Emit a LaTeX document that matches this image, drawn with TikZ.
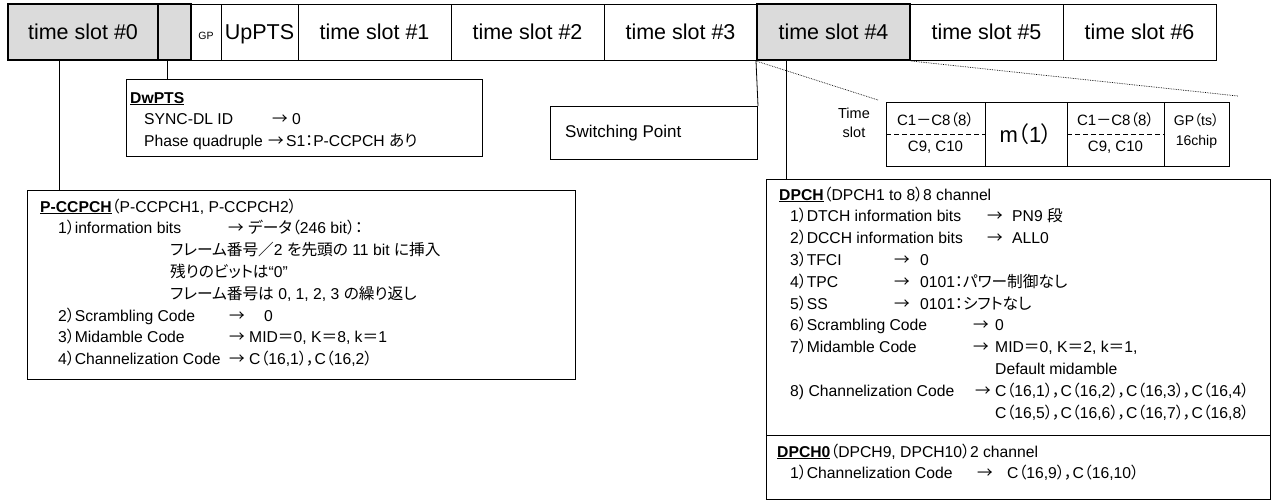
\documentclass[tikz,border=0pt]{standalone}
\usepackage{fontspec}
\setmainfont{Liberation Sans}
\newfontfamily\jpfont[CharacterWidth=AlternateProportional]{Noto Sans CJK JP}
\newcommand\jp[1]{{\jpfont#1}}
% place a piece of a text line at a fixed offset from the line start
\newcommand\seg[2]{\rlap{\hspace*{#1pt}#2}}
\newcommand\hd[1]{\textbf{\underline{#1}}}
\usetikzlibrary{calc}

\begin{document}
\begin{tikzpicture}[x=1pt,y=-1pt,
  slot/.style={draw, line width=0.8pt, minimum height=56pt, inner sep=0pt,
    text height=14pt, text depth=0pt, font=\fontsize{21.5}{24}\selectfont},
  hot/.style={fill=black!14, line width=2pt},
  box/.style={draw, line width=1pt, inner sep=0pt, anchor=north west},
  body/.style={inner sep=0pt, anchor=base west, font=\fontsize{15.7}{21.8}\selectfont},
  cell/.style={draw, line width=0.8pt, inner sep=0pt, anchor=north west, minimum height=64pt},
  celltxt/.style={inner sep=0pt, anchor=base, font=\fontsize{15}{18}\selectfont},
  split/.style={line width=0.8pt, dash pattern=on 5pt off 3pt},
  link/.style={line width=0.8pt},
  zoomline/.style={line width=0.7pt, densely dotted}
]
\useasboundingbox (0,0) rectangle (1278,501);

% ---- frame of time slots ----
\node[slot, minimum width=30pt] (gp) at (206,32) {\fontsize{10.5}{12}\selectfont GP};
\node[slot, minimum width=77pt] (up) at (259.5,32) {UpPTS};
\node[slot, minimum width=153pt] (ts1) at (374.5,32) {time slot \#1};
\node[slot, minimum width=153pt] (ts2) at (527.5,32) {time slot \#2};
\node[slot, minimum width=153pt] (ts3) at (680.5,32) {time slot \#3};
\node[slot, minimum width=153pt] (ts5) at (986.5,32) {time slot \#5};
\node[slot, minimum width=153pt] (ts6) at (1139.5,32) {time slot \#6};
\node[slot, hot, minimum width=150pt] (ts0) at (83,32) {time slot \#0};
\node[slot, hot, minimum width=33pt] (sm) at (174.5,32) {};
\node[slot, hot, minimum width=153pt] (ts4) at (833.5,32) {time slot \#4};

% ---- description boxes ----
\node[box, minimum width=356pt, minimum height=77pt] (dw) at (126,79) {};
\node[box, minimum width=548pt, minimum height=189pt] (pcc) at (27,190) {};
\node[box, minimum width=207pt, minimum height=53pt] (sp) at (550,106) {};
\node[box, minimum width=504pt, minimum height=256pt] (dpch) at (766,179) {};
\node[box, minimum width=504pt, minimum height=64pt] (dpch0) at (766,435) {};

% ---- connectors ----
\draw[link] (ts0.south west) ++(52pt,0) coordinate (k0) -- (k0 |- pcc.north);
\draw[link] (sm.south west) ++(10pt,0) coordinate (k1) -- (k1 |- dw.north);
\draw[link] (ts4.south west) -- (sp.north east);
\draw[link] (ts4.south west) ++(30pt,0) coordinate (k4) -- (k4 |- dpch.north);

% ---- structure of one time slot ----
\node[cell, minimum width=99pt] (c1) at (886,102) {};
\node[cell, minimum width=82pt] (c2) at (985,102) {};
\node[cell, minimum width=97pt] (c3) at (1067,102) {};
\node[cell, minimum width=65pt] (c4) at (1164,102) {};
\draw[split] (c1.west) -- (c1.east);
\draw[split] (c3.west) -- (c3.east);
\draw[zoomline] (ts4.south west) -- ([shift={(-8pt,2pt)}]c1.north west);
\draw[zoomline] (ts4.south east) -- ([shift={(8pt,6pt)}]c4.north east);

\node[inner sep=0pt, anchor=base, font=\fontsize{14.5}{19}\selectfont] (tsl) at (854,118)
  {\parbox[t]{40pt}{\centering Time\\slot}};
\node[celltxt] (c1a) at (935.5,125) {C1\jp{－}C8\jp{（}8\jp{）}};
\node[celltxt] (c1b) at (935.5,151) {C9, C10};
\node[celltxt, anchor=center, font=\fontsize{22}{24}\selectfont] (c2a) at (1026,134) {m\jp{（}1\jp{）}};
\node[celltxt] (c3a) at (1115.5,125) {C1\jp{－}C8\jp{（}8\jp{）}};
\node[celltxt] (c3b) at (1115.5,151) {C9, C10};
\node[celltxt, font=\fontsize{14}{16}\selectfont] (c4a) at (1196.5,125) {GP\jp{（}ts\jp{）}};
\node[celltxt, font=\fontsize{14}{16}\selectfont] (c4b) at (1196.5,145) {16chip};

% ---- texts ----
\node[anchor=west, inner sep=0pt, font=\fontsize{17}{20}\selectfont] (spTxt) at (565,133) {Switching Point};

\node[body] (dwTxt) at (130,103) {\parbox[t]{340pt}{%
\hd{DwPTS}\\
\seg{14}{SYNC-DL ID}\seg{142}{\jp{→}}\seg{162}{0}\\
\seg{14}{Phase quadruple}\seg{138}{\jp{→}}\seg{156}{S1\jp{：}P-CCPCH \jp{あり}}}};

\node[body] (pccTxt) at (40,212) {\parbox[t]{520pt}{%
\hd{P-CCPCH}\jp{（}P-CCPCH1, P-CCPCH2\jp{）}\\
\seg{18}{1\jp{）}information bits}\seg{188}{\jp{→}}\seg{208}{\jp{データ（}246 bit\jp{）：}}\\
\seg{130}{\jp{フレーム番号／}2 \jp{を先頭の} 11 bit \jp{に挿入}}\\
\seg{130}{\jp{残りのビットは}“0”}\\
\seg{130}{\jp{フレーム番号は} 0, 1, 2, 3 \jp{の繰り返し}}\\
\seg{18}{2\jp{）}Scrambling Code}\seg{189}{\jp{→}}\seg{224}{0}\\
\seg{18}{3\jp{）}Midamble Code}\seg{189}{\jp{→}}\seg{209}{MID\jp{＝}0, K\jp{＝}8, k\jp{＝}1}\\
\seg{18}{4\jp{）}Channelization Code}\seg{189}{\jp{→}}\seg{209}{C\jp{（}16,1\jp{），}C\jp{（}16,2\jp{）}}}};

\node[body] (dpchTxt) at (779,200) {\parbox[t]{480pt}{%
\hd{DPCH}\jp{（}DPCH1 to 8\jp{）}8 channel\\
\seg{11}{1\jp{）}DTCH information bits}\seg{208}{\jp{→}}\seg{233}{PN9 \jp{段}}\\
\seg{11}{2\jp{）}DCCH information bits}\seg{208}{\jp{→}}\seg{233}{ALL0}\\
\seg{11}{3\jp{）}TFCI}\seg{115}{\jp{→}}\seg{141}{0}\\
\seg{11}{4\jp{）}TPC}\seg{115}{\jp{→}}\seg{141}{0101\jp{：パワー制御なし}}\\
\seg{11}{5\jp{）}SS}\seg{115}{\jp{→}}\seg{141}{0101\jp{：シフトなし}}\\
\seg{11}{6\jp{）}Scrambling Code}\seg{194}{\jp{→}}\seg{216}{0}\\
\seg{11}{7\jp{）}Midamble Code}\seg{194}{\jp{→}}\seg{216}{MID\jp{＝}0, K\jp{＝}2, k\jp{＝}1,}\\
\seg{216}{Default midamble}\\
\seg{11}{8) Channelization Code}\seg{196}{\jp{→}}\seg{216}{C\jp{（}16,1\jp{），}C\jp{（}16,2\jp{），}C\jp{（}16,3\jp{），}C\jp{（}16,4\jp{）}}\\
\seg{216}{C\jp{（}16,5\jp{），}C\jp{（}16,6\jp{），}C\jp{（}16,7\jp{），}C\jp{（}16,8\jp{）}}}};

\node[body] (dpch0Txt) at (777,457) {\parbox[t]{480pt}{%
\hd{DPCH0}\jp{（}DPCH9, DPCH10\jp{）}2 channel\\
\seg{13}{1\jp{）}Channelization Code}\seg{200}{\jp{→}}\seg{230}{C\jp{（}16,9\jp{），}C\jp{（}16,10\jp{）}}}};
\end{tikzpicture}
\end{document}
